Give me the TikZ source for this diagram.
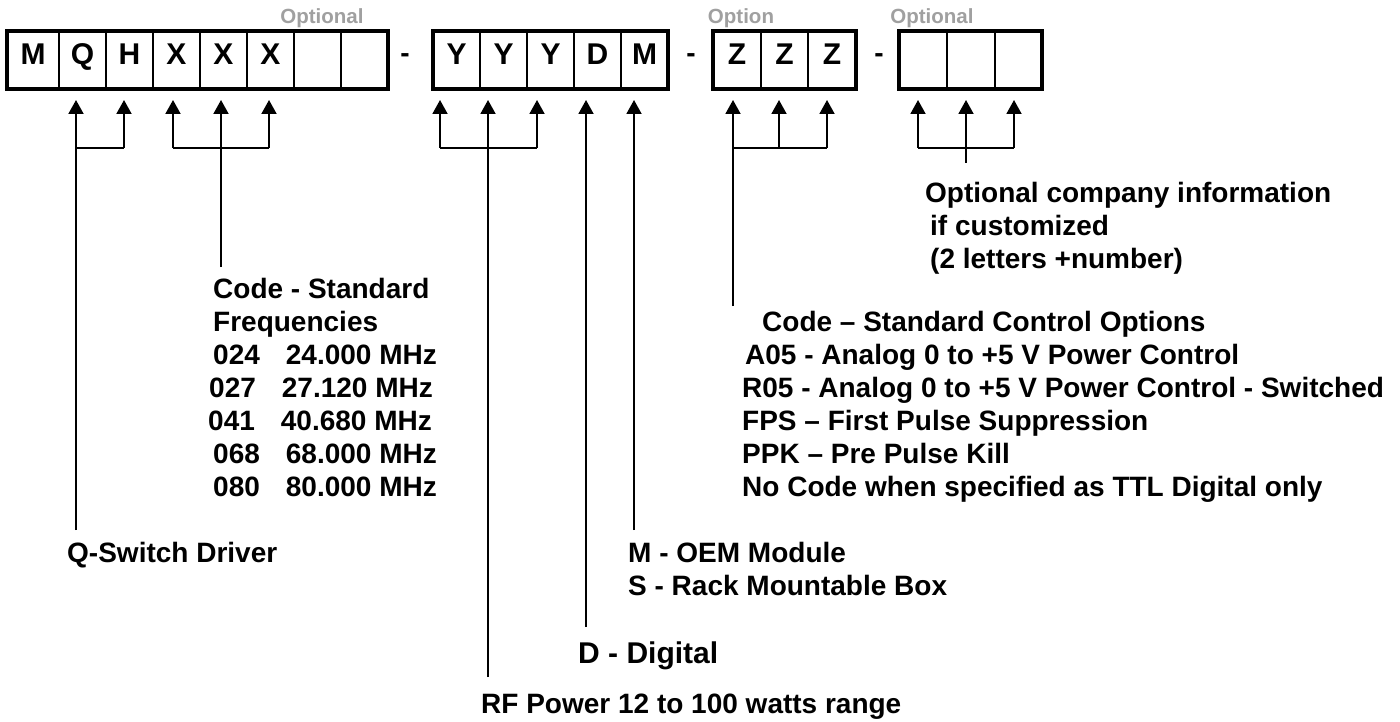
\documentclass[tikz,border=0pt]{standalone}
\usepackage{fontspec}
\setmainfont{Liberation Sans}
\usetikzlibrary{arrows.meta}
\definecolor{optgray}{HTML}{A0A0A0}
\begin{document}
\begin{tikzpicture}[x=1pt,y=-1pt,
  cell/.style={draw, line width=2.5pt, inner sep=0pt, outer sep=0pt, minimum height=58pt,
    font=\fontsize{30}{33}\selectfont\bfseries, text height=21pt, text depth=12pt},
  frame/.style={draw, line width=3.5pt},
  txt/.style={anchor=base west, inner sep=0pt, font=\fontsize{28}{33}\selectfont\bfseries},
  bigtxt/.style={txt, font=\fontsize{30}{36}\selectfont\bfseries},
  opt/.style={anchor=base, inner sep=0pt, text=optgray, font=\fontsize{20.5}{24}\selectfont\bfseries},
  conn/.style={line width=1.9pt},
  arr/.style={conn, -{Triangle[width=15pt,length=14pt]}}]
\fill[white] (0,0) rectangle (1400,722);
\useasboundingbox (0,0) rectangle (1400,722);

% ---- cells ----
\foreach \n/\a/\b/\t in {cM/7/59/M, cQ/59/106/Q, cH/106/153/H, cXa/153/200/X, cXb/200/247/X, cXc/247/294/X, cE1/294/341/, cE2/341/388/,
  cYa/433/480/Y, cYb/480/527/Y, cYc/527/574/Y, cD/574/621/D, cMm/621/668/M,
  cZa/713/761/Z, cZb/761/808/Z, cZc/808/856/Z,
  cOa/899/947/, cOb/947/995/, cOc/995/1042/}
  \node[cell, minimum width={(\b-\a)*1pt}] (\n) at ({(\a+\b)/2},60) {\t};
\draw[frame] (cM.north west) rectangle (cE2.south east);
\draw[frame] (cYa.north west) rectangle (cMm.south east);
\draw[frame] (cZa.north west) rectangle (cZc.south east);
\draw[frame] (cOa.north west) rectangle (cOc.south east);

% ---- dashes ----
\node[txt, anchor=base] (d1) at (405,63) {-};
\node[txt, anchor=base] (d2) at (691,63) {-};
\node[txt, anchor=base] (d3) at (879,63) {-};

% ---- gray labels ----
\node[opt] (o1) at (322,24) {Optional};
\node[opt] (o2) at (741,24) {Option};
\node[opt] (o3) at (932,24) {Optional};

% ---- texts ----
\node[txt] (qsw) at (67,562) {Q-Switch Driver};

\node[txt] (f1) at (213,298) {Code - Standard};
\node[txt] (f2) at (213,331) {Frequencies};
\node[txt] (f3) at (213,364) {024\hspace{26pt}24.000 MHz};
\node[txt] (f4) at (209,397) {027\hspace{26pt}27.120 MHz};
\node[txt] (f5) at (208,430) {041\hspace{26pt}40.680 MHz};
\node[txt] (f6) at (213,463) {068\hspace{26pt}68.000 MHz};
\node[txt] (f7) at (213,496) {080\hspace{26pt}80.000 MHz};

\node[txt] (k1) at (762,331) {Code – Standard Control Options};
\node[txt] (k2) at (745,364) {A05 - Analog 0 to +5 V Power Control};
\node[txt] (k3) at (742,397) {R05 - Analog 0 to +5 V Power Control - Switched};
\node[txt] (k4) at (742,430) {FPS – First Pulse Suppression};
\node[txt] (k5) at (742,463) {PPK – Pre Pulse Kill};
\node[txt] (k6) at (742,496) {No Code when specified as TTL Digital only};

\node[txt] (p1) at (925,203) {Optional company information};
\node[txt] (p2) at (930,236) {if customized};
\node[txt] (p3) at (930,269) {(2 letters +number)};

\node[txt] (mo) at (628,562) {M - OEM Module};
\node[txt] (sr) at (628,595) {S - Rack Mountable Box};
\node[bigtxt] (dd) at (578,663) {D - Digital};
\node[txt] (rf) at (481,713) {RF Power 12 to 100 watts range};

% ---- coordinates: arrow tips (y=100), junctions (y=148), free ends ----
\foreach \n/\x in {Q/76, H/124, Xa/173, Xb/221, Xc/269, Ya/440, Yb/488, Yc/537, D/586, M/634,
  Za/733, Zb/779, Zc/827, Oa/918, Ob/966, Oc/1014}{
  \coordinate (t\n) at (\x,100);
  \coordinate (j\n) at (\x,148);
}
\coordinate (eQ) at (76,530);
\coordinate (eX) at (221,267);
\coordinate (eY) at (488,677);
\coordinate (eD) at (586,627);
\coordinate (eM) at (634,530);
\coordinate (eZ) at (733,306);
\coordinate (eO) at (966,163);

% ---- connectors ----
\draw[conn] (jQ) -- (jH);
\draw[arr] (eQ) -- (tQ);
\draw[arr] (jH) -- (tH);

\draw[conn] (jXa) -- (jXc);
\draw[arr] (jXa) -- (tXa);
\draw[arr] (eX) -- (tXb);
\draw[arr] (jXc) -- (tXc);

\draw[conn] (jYa) -- (jYc);
\draw[arr] (jYa) -- (tYa);
\draw[arr] (eY) -- (tYb);
\draw[arr] (jYc) -- (tYc);
\draw[arr] (eD) -- (tD);
\draw[arr] (eM) -- (tM);

\draw[conn] (jZa) -- (jZc);
\draw[arr] (eZ) -- (tZa);
\draw[arr] (jZb) -- (tZb);
\draw[arr] (jZc) -- (tZc);

\draw[conn] (jOa) -- (jOc);
\draw[arr] (jOa) -- (tOa);
\draw[arr] (eO) -- (tOb);
\draw[arr] (jOc) -- (tOc);
\end{tikzpicture}
\end{document}
